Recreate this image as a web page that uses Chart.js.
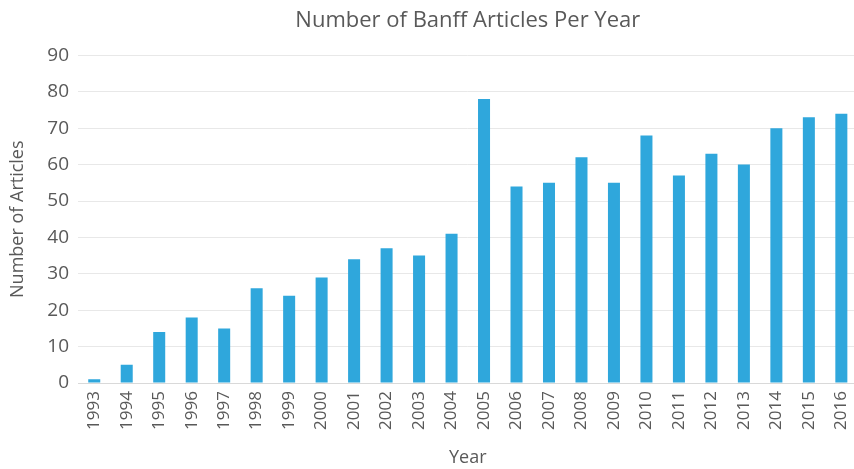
<!DOCTYPE html>
<html>
<head>
<meta charset="utf-8">
<script src="https://cdn.jsdelivr.net/npm/chart.js@4"></script>
<style>
  html, body { margin: 0; padding: 0; background: #fff; overflow: hidden; }
  #wrap { width: 870px; height: 469px; }
</style>
</head>
<body>
<div id="wrap"><canvas id="c" width="870" height="469"></canvas></div>
<script>
const years = ['1993','1994','1995','1996','1997','1998','1999','2000','2001','2002','2003','2004',
               '2005','2006','2007','2008','2009','2010','2011','2012','2013','2014','2015','2016'];
const articles = [1, 5, 14, 18, 15, 26, 24, 29, 34, 37, 35, 41,
                  78, 54, 55, 62, 55, 68, 57, 63, 60, 70, 73, 74];
const yTicks = [0, 10, 20, 30, 40, 50, 60, 70, 80, 90];

const textColor = '#595959';
new Chart(document.getElementById('c'), {
  type: 'bar',
  data: {
    labels: years,
    datasets: [{
      label: 'Articles',
      data: articles,
      backgroundColor: '#2fa7dc',
      borderWidth: 0,
      categoryPercentage: 1,
      barPercentage: 0.37
    }]
  },
  options: {
    responsive: false,
    animation: false,
    layout: { padding: { left: 0, right: 7, top: 0, bottom: 0 } },
    plugins: {
      legend: { display: false },
      tooltip: { enabled: false },
      title: {
        display: true,
        text: 'Number of Banff Articles Per Year',
        color: textColor,
        fullSize: false,
        font: { family: 'Open Sans', size: 22, weight: 'normal' },
        padding: { top: 8, bottom: 21 }
      }
    },
    scales: {
      x: {
        grid: { display: false, drawTicks: false },
        border: { display: true, color: '#d9d9d9', width: 1 },
        ticks: {
          color: textColor,
          font: { family: 'Open Sans', size: 17 },
          minRotation: 90, maxRotation: 90,
          autoSkip: false,
          padding: 8
        },
        title: {
          display: true, text: 'Year', color: textColor,
          font: { family: 'Open Sans', size: 18 },
          padding: { top: 0, bottom: 0 }
        },
        afterFit: (s) => { s.height = 86; }
      },
      y: {
        min: 0, max: 90,
        afterBuildTicks: (s) => { s.ticks = yTicks.map(v => ({ value: v })); },
        grid: { color: '#e8e8e8', drawTicks: false },
        border: { display: false },
        ticks: {
          color: textColor,
          font: { family: 'Open Sans', size: 19 },
          padding: 9
        },
        title: {
          display: true, text: 'Number of Articles', color: textColor,
          font: { family: 'Open Sans', size: 18 },
          padding: { top: 7, bottom: 0 }
        },
        afterFit: (s) => { s.width = 78; }
      }
    }
  }
});
</script>
</body>
</html>
